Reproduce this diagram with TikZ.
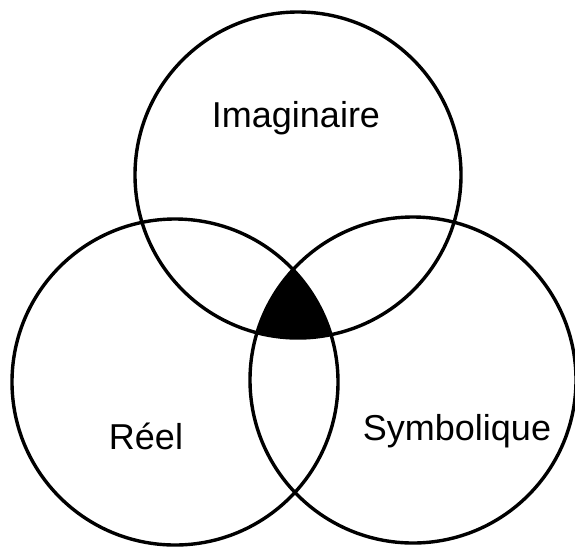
\documentclass[tikz,border=0pt]{standalone}
\usepackage{fontspec}
\setmainfont{Liberation Sans}
\usetikzlibrary{backgrounds}

\begin{document}
\begin{tikzpicture}[
    x=1pt, y=-1pt,
    ring/.style={circle, draw, line width=3.4pt, minimum size=326pt, inner sep=0pt},
    word/.style={font=\fontsize{36}{42}\selectfont, anchor=base, inner sep=0pt}
]
\useasboundingbox (0,0) rectangle (575,547);

\node[ring] (imag) at (298,175) {};
\node[ring] (reel) at (175,382) {};
\node[ring] (symb) at (413,380) {};

% zone commune aux trois registres
\begin{scope}
  \clip (imag.center) circle (163);
  \clip (reel.center) circle (163);
  \fill (symb.center) circle (163);
\end{scope}

\node[word] (imagtxt) at (296,127) {Imaginaire};
\node[word] (reeltxt) at (146,449) {Réel};
\node[word] (symbtxt) at (457,440) {Symbolique};

\end{tikzpicture}
\end{document}
